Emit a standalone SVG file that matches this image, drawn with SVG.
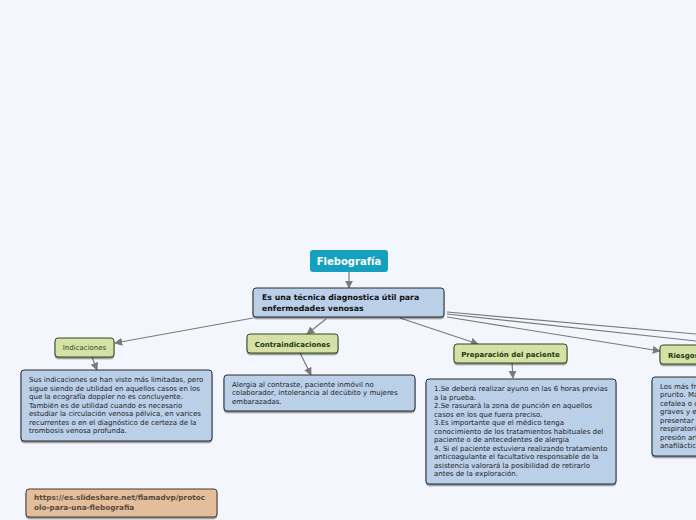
<svg xmlns="http://www.w3.org/2000/svg" width="696" height="520" viewBox="0 0 696 520">
<defs>
<marker id="arr" viewBox="0 0 10 10" refX="9" refY="5" markerWidth="8" markerHeight="8" markerUnits="userSpaceOnUse" orient="auto">
<path d="M0,0 L10,5 L0,10 z" fill="#7a7a7a"/>
</marker>
<filter id="sh" x="-5%" y="-5%" width="110%" height="130%">
<feDropShadow dx="0" dy="1.5" stdDeviation="0.6" flood-color="#000" flood-opacity="0.45"/>
</filter>
</defs>
<style>
text{font-family:"DejaVu Sans",Verdana,sans-serif;}
.blue{fill:#bacfe8;stroke:#2a2a2a;stroke-width:1;filter:url(#sh);}
.green{fill:#d5e1a6;stroke:#2f4a1c;stroke-width:1;filter:url(#sh);}
.tan{fill:#e2be9c;stroke:#4a3a2a;stroke-width:1;filter:url(#sh);}
.body{font-size:7px;fill:#1e1e1e;}
.gl{font-size:7px;fill:#2a4a1a;}
.gb{font-size:7px;fill:#1e3a10;font-weight:bold;}
.conn{stroke:#7a7a7a;stroke-width:1.2;fill:none;marker-end:url(#arr);}
.line{stroke:#7a7a7a;stroke-width:1.2;fill:none;}
</style>
<rect width="696" height="520" fill="#f3f6fd"/>
<g id="connectors">
<line class="conn" x1="349" y1="272" x2="349" y2="288"/>
<line class="conn" x1="253" y1="318" x2="115" y2="343"/>
<line class="conn" x1="326" y1="319" x2="307" y2="334"/>
<line class="conn" x1="400" y1="318" x2="478" y2="344"/>
<line class="line" x1="447" y1="312" x2="696" y2="334"/>
<line class="line" x1="447" y1="314" x2="696" y2="341"/>
<line class="conn" x1="447" y1="317" x2="660" y2="351"/>
<line class="conn" x1="92" y1="357" x2="97" y2="370"/>
<line class="conn" x1="300" y1="353" x2="311" y2="375"/>
<line class="conn" x1="512" y1="363" x2="513" y2="378"/>
</g>
<g id="flebografia">
<rect x="310" y="250" width="78" height="22" rx="3" fill="#16a0c0"/>
<text x="349" y="265" font-size="10" font-weight="bold" fill="#ffffff" text-anchor="middle">Flebografía</text>
</g>
<g id="main">
<rect class="blue" x="253" y="288" width="191" height="29" rx="3"/>
<text x="262" y="300" font-size="7.8" font-weight="bold" fill="#111">Es una técnica diagnostica útil para</text>
<text x="262" y="311" font-size="7.8" font-weight="bold" fill="#111">enfermedades venosas</text>
</g>
<g id="indicaciones">
<rect class="green" x="55" y="338" width="59" height="19" rx="3"/>
<text class="gl" x="84.5" y="350" text-anchor="middle">Indicaciones</text>
</g>
<g id="indicaciones-text">
<rect class="blue" x="21" y="370" width="191" height="71" rx="3"/>
<text class="body" x="29" y="382">Sus indicaciones se han visto más limitadas, pero</text>
<text class="body" x="29" y="391">sigue siendo de utilidad en aquellos casos en los</text>
<text class="body" x="29" y="399">que la ecografía doppler no es concluyente.</text>
<text class="body" x="29" y="408">También es de utilidad cuando es necesario</text>
<text class="body" x="29" y="416">estudiar la circulación venosa pélvica, en varices</text>
<text class="body" x="29" y="425">recurrentes o en el diagnóstico de certeza de la</text>
<text class="body" x="29" y="433">trombosis venosa profunda.</text>
</g>
<g id="contraindicaciones">
<rect class="green" x="247" y="334" width="91" height="19" rx="3"/>
<text class="gb" x="292.5" y="346.5" text-anchor="middle">Contraindicaciones</text>
</g>
<g id="contraindicaciones-text">
<rect class="blue" x="224" y="375" width="191" height="36" rx="3"/>
<text class="body" x="232" y="387">Alergia al contraste, paciente inmóvil no</text>
<text class="body" x="232" y="395">colaborador, intolerancia al decúbito y mujeres</text>
<text class="body" x="232" y="404">embarazadas.</text>
</g>
<g id="preparacion">
<rect class="green" x="454" y="344" width="113" height="19" rx="3"/>
<text class="gb" x="510.5" y="356.5" text-anchor="middle">Preparación del paciente</text>
</g>
<g id="preparacion-text">
<rect class="blue" x="426" y="379" width="190" height="105" rx="3"/>
<text class="body" x="434" y="391">1.Se deberá realizar ayuno en las 6 horas previas</text>
<text class="body" x="434" y="400">a la prueba.</text>
<text class="body" x="434" y="408">2.Se rasurará la zona de punción en aquellos</text>
<text class="body" x="434" y="417">casos en los que fuera preciso.</text>
<text class="body" x="434" y="425">3.Es importante que el médico tenga</text>
<text class="body" x="434" y="434">conocimiento de los tratamientos habituales del</text>
<text class="body" x="434" y="442">paciente o de antecedentes de alergia</text>
<text class="body" x="434" y="451">4. Si el paciente estuviera realizando tratamiento</text>
<text class="body" x="434" y="459">anticoagulante el facultativo responsable de la</text>
<text class="body" x="434" y="468">asistencia valorará la posibilidad de retirarlo</text>
<text class="body" x="434" y="476">antes de la exploración.</text>
</g>
<g id="riesgos">
<rect class="green" x="660" y="345" width="60" height="19" rx="3"/>
<text class="gb" x="668" y="357.5">Riesgos</text>
</g>
<g id="riesgos-text">
<rect class="blue" x="652" y="377" width="80" height="79" rx="3"/>
<text class="body" x="660" y="389">Los más frecuentes</text>
<text class="body" x="660" y="397">prurito. Más</text>
<text class="body" x="660" y="406">cefalea o crisis</text>
<text class="body" x="660" y="414">graves y en</text>
<text class="body" x="660" y="423">presentar</text>
<text class="body" x="660" y="431">respiratoria</text>
<text class="body" x="660" y="440">presión arterial</text>
<text class="body" x="660" y="448">anafiláctico.</text>
</g>
<g id="link">
<rect class="tan" x="26" y="489" width="191" height="28" rx="3"/>
<text x="34" y="500" font-size="7.3" font-weight="bold" fill="#5a4a3a">https://es.slideshare.net/flamadvp/protoc</text>
<text x="34" y="510" font-size="7.3" font-weight="bold" fill="#5a4a3a">olo-para-una-flebografia</text>
</g>
</svg>
